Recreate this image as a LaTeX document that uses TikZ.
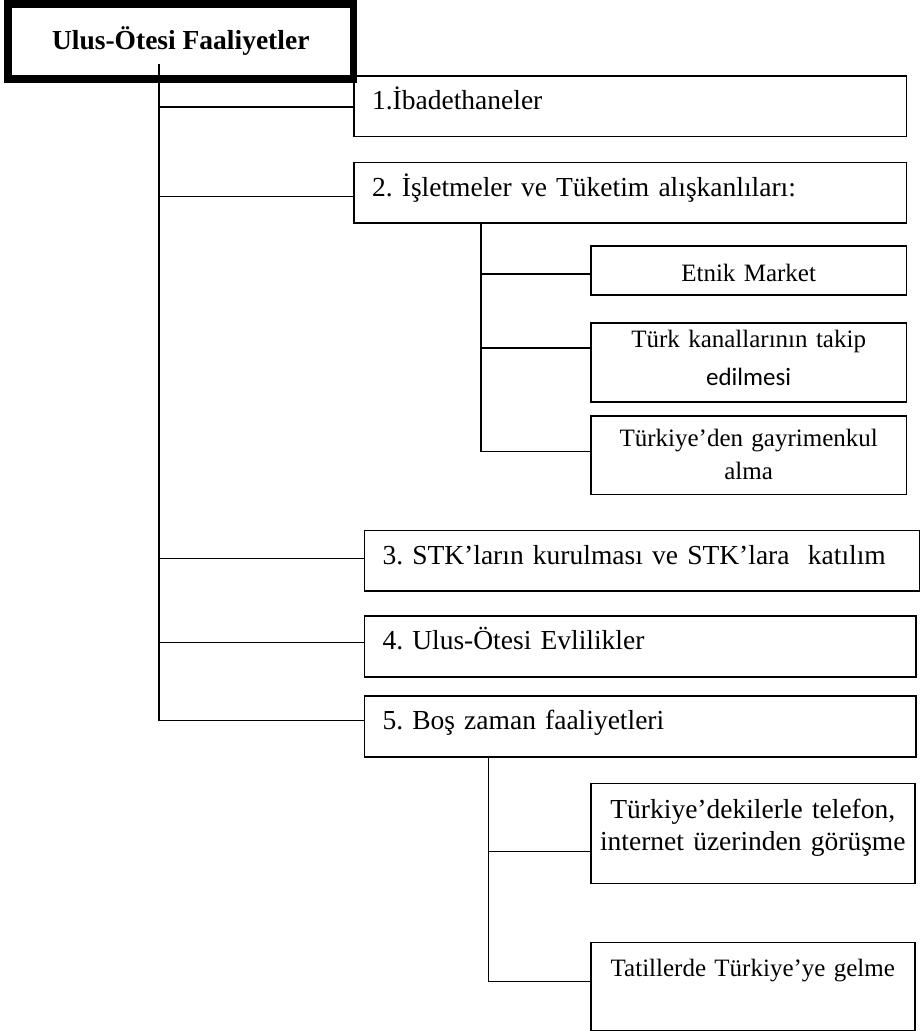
\documentclass[tikz,border=0pt]{standalone}
\usepackage{fontspec}
\setmainfont{Liberation Serif}
\newfontfamily\carlito{Carlito}
\frenchspacing

\begin{document}
\begin{tikzpicture}[x=1pt,y=-1pt,
  every node/.style={font=\fontsize{27.5}{33}\selectfont},
  ana/.style={draw,line width=1.6pt,anchor=north west,inner xsep=18pt,inner ysep=0pt,align=left,text height=34pt},
  alt/.style={draw,line width=1.6pt,anchor=north west,inner xsep=5pt,inner ysep=0pt,align=center,font=\fontsize{25}{30}\selectfont},
  hat/.style={line width=1.6pt}]
\useasboundingbox (0,0) rectangle (920,1031);

\node[draw,line width=7.5pt,minimum width=345.5pt,minimum height=75pt,font=\fontsize{27.5}{33}\selectfont\bfseries] (baslik) at (180.75,41.5) {Ulus-Ötesi Faaliyetler};

\node[ana,text width=516.4pt,text depth=26.5pt] (kutu1) at (353.3,75) {1.İbadethaneler};
\node[ana,text width=516.4pt,text depth=26.5pt] (kutu2) at (353.3,161.5) {2. İşletmeler ve Tüketim alışkanlıları:};

\node[alt,text width=305.7pt,text height=36pt,text depth=13pt] (etnik) at (590,245) {Etnik Market};
\node[alt,text width=305.7pt,text height=25pt,text depth=54pt] (kanal) at (590,322) {Türk kanallarının takip\\[8pt]{\carlito edilmesi}};
\node[alt,text width=305.7pt,text height=31pt,text depth=47.5pt] (gayri) at (590,415) {Türkiye’den gayrimenkul\\[3pt]alma};

\node[ana,text width=519.3pt,text depth=26.5pt] (kutu3) at (363.7,529.5) {3. STK’ların kurulması ve STK’lara~ katılım};
\node[ana,text width=515.3pt,text depth=27pt] (kutu4) at (363.7,615) {4. Ulus-Ötesi Evlilikler};
\node[ana,text width=515.3pt,text depth=27pt] (kutu5) at (363.7,695) {5. Boş zaman faaliyetleri};

\node[alt,text width=314pt,text height=35.3pt,text depth=64.7pt,font=\fontsize{27.5}{32}\selectfont] (telefon) at (590,782.7) {Türkiye’dekilerle telefon,\\internet üzerinden görüşme};
\node[alt,text width=314pt,text height=33.5pt,text depth=54.5pt] (tatil) at (590,941.7) {Tatillerde Türkiye’ye gelme};

\coordinate (kok) at (159,64);
\coordinate (dal1) at (480.7,222);
\coordinate (dal2) at (488.3,756);

% ana dallar
\draw[hat] ([yshift=-1pt]kutu1.west) -| (kok);
\draw[hat] ([yshift=-4pt]kutu2.west) -| (kok);
\draw[hat] ([yshift=2pt]kutu3.west) -| (kok);
\draw[hat] ([yshift=4pt]kutu4.west) -| (kok);
\draw[hat] ([yshift=6pt]kutu5.west) -| (kok);

% alt dallar
\draw[hat] ([yshift=-3.5pt]etnik.west) -| (dal1);
\draw[hat] ([yshift=14.5pt]kanal.west) -| (dal1);
\draw[hat] ([yshift=3.5pt]gayri.west) -| (dal1);
\draw[hat] ([yshift=-18pt]telefon.west) -| (dal2);
\draw[hat] ([yshift=5pt]tatil.west) -| (dal2);

\end{tikzpicture}
\end{document}
